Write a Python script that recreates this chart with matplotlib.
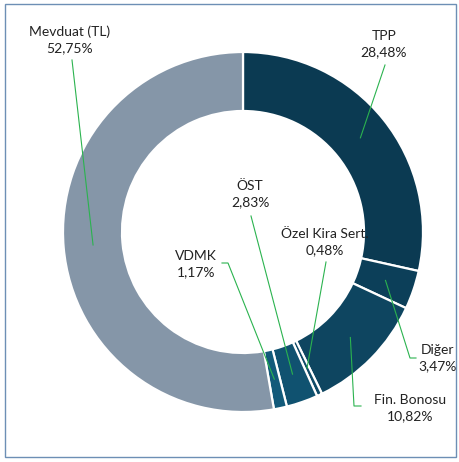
import numpy as np
import matplotlib
matplotlib.use("Agg")
import matplotlib.pyplot as plt
from matplotlib.patches import Rectangle

plt.rcParams['font.family'] = ['Lato', 'DejaVu Sans']

# data, clockwise from 12 o'clock
labels = ["TPP", "Diğer", "Fin. Bonosu", "Özel Kira Sert.", "ÖST", "VDMK", "Mevduat (TL)"]
shares = [28.48, 3.47, 10.82, 0.48, 2.83, 1.17, 52.75]
colors = ["#0b3a52", "#0c3f59", "#0e4560", "#0f4b68", "#105270", "#125a7a", "#8596a8"]

# label text centre (pixels, y downward) and leader line bend/start
label_pos = [(384, 44), (438, 358), (410, 408), (325, 242), (250, 194), (196, 264), (70, 40)]
line_start = [(385, 65), (416, 358), (361, 406), (326, 262), (251, 216), (222, 263), (72, 60)]
line_bend = [None, (410, 358), (354, 406), None, None, (228, 263), None]

W, H = 460, 462
cx, cy, r_out, ring = 243, 232, 180, 59

fig = plt.figure(figsize=(W / 100, H / 100), dpi=100)
ax = fig.add_axes([0, 0, 1, 1])


def fy(y):
    return H - y


ax.pie(shares, colors=colors, startangle=90, counterclock=False,
       center=(cx, fy(cy)), radius=r_out, frame=True,
       wedgeprops=dict(width=ring, edgecolor='white', linewidth=1.6))
ax.set_xlim(0, W)
ax.set_ylim(0, H)
ax.set_aspect('equal')
ax.axis('off')

# leader lines to the middle of each ring segment
cum = np.cumsum([0] + shares[:-1])
r_mid = r_out - ring / 2
for i, lab in enumerate(labels):
    theta = np.deg2rad((cum[i] + shares[i] / 2) / 100 * 360)
    px = cx + r_mid * np.sin(theta)
    py = cy - r_mid * np.cos(theta)
    pts = [line_start[i]]
    if line_bend[i] is not None:
        pts.append(line_bend[i])
    pts.append((px, py))
    xs = [p[0] for p in pts]
    ys = [fy(p[1]) for p in pts]
    ax.plot(xs, ys, color='#2bb34f', lw=0.8, zorder=5)
    tx, ty = label_pos[i]
    ax.text(tx, fy(ty), lab + "\n" + ("%.2f%%" % shares[i]).replace('.', ','),
            ha='center', va='center', fontsize=10, color='#222222',
            linespacing=1.4, zorder=6)

# outer frame of the chart area
ax.add_patch(Rectangle((5.5, fy(457.5)), 451, 454, fill=False,
                       edgecolor='#6d8fb5', lw=1.0, clip_on=False))

fig.savefig("out.png", dpi=100)
